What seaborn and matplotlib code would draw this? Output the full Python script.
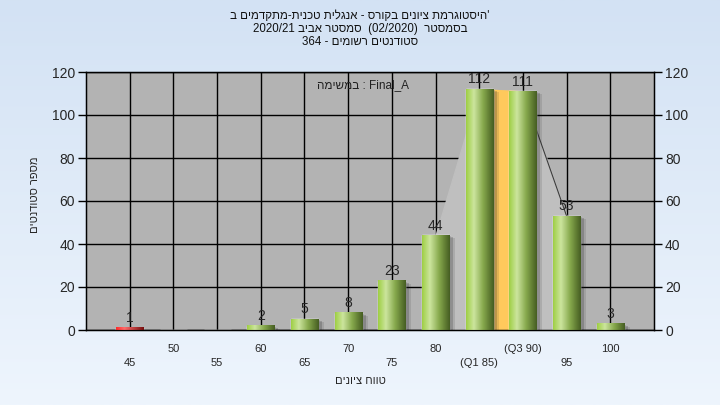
import re
import numpy as np
import pandas as pd
import matplotlib
matplotlib.use('Agg')
import matplotlib.pyplot as plt
import seaborn as sns
from matplotlib.colors import LinearSegmentedColormap
from matplotlib.patches import Rectangle
from matplotlib import transforms

# data
grades = ['45', '50', '55', '60', '65', '70', '75', '80', '85', '90', '95', '100']
counts = [1, 0, 0, 2, 5, 8, 23, 44, 112, 111, 53, 3]
tick_labels = ['45', '50', '55', '60', '65', '70', '75', '80', '(Q1 85)', '(Q3 90)', '95', '100']
q1_grade, q3_grade = '85', '90'
curve_grades = ['80', '85', '90', '95']
low_grade = '45'

title_lines = ["'היסטוגרמת ציונים בקורס - אנגלית טכנית-מתקדמים ב",
               "בסמסטר  (02/2020)  סמסטר אביב 2020/21",
               "סטודנטים רשומים - 364"]
task_word = "במשימה"
task_name = "Final_A"
x_title = "טווח ציונים"
y_title = "מספר סטודנטים"


def rtl(s):
    # matplotlib has no bidi support: lay the RTL text out in visual order
    v = s[::-1]
    v = re.sub(r'[0-9A-Za-z_/.:]+', lambda m: m.group()[::-1], v)
    return v.translate(str.maketrans('()', ')('))


sns.set_style('white')
plt.rcParams['font.family'] = ['Liberation Sans', 'DejaVu Sans']

fig = plt.figure(figsize=(7.2, 4.05), dpi=100)

# light blue gradient background
bg = fig.add_axes([0, 0, 1, 1], zorder=-10)
bg.imshow(np.linspace(0, 1, 256).reshape(-1, 1), aspect='auto', extent=[0, 1, 0, 1],
          cmap=LinearSegmentedColormap.from_list('bg', ['#d3e2f4', '#eef5fd']))
bg.axis('off')

ax = fig.add_axes([86 / 720, 75 / 405, 568 / 720, 258 / 405])
ax.set_facecolor('#b3b3b3')

df = pd.DataFrame({'grade': grades, 'count': counts})
palette = ['#c82020' if g == low_grade else '#8fbf45' for g in grades]
sns.barplot(data=df, x='grade', y='count', hue='grade', palette=palette, legend=False,
            width=0.62, saturation=1, ax=ax, zorder=3)

green = LinearSegmentedColormap.from_list('g', [(0, '#9fcf45'), (0.28, '#cce59e'),
                                                (0.62, '#86a84c'), (1, '#465e22')])
red = LinearSegmentedColormap.from_list('r', [(0, '#ff2a2a'), (0.3, '#ff6a6a'),
                                              (1, '#781010')])
grad = np.linspace(0, 1, 64).reshape(1, -1)
# soft drop shadow: a few offset layers
shadow_layers = [(2, -1, 0.25), (4, -2, 0.2), (6, -3, 0.12)]

bars = [p for p in ax.patches if isinstance(p, Rectangle)]
for p, g in zip(sorted(bars, key=lambda r: r.get_x()), grades):
    x, w, h = p.get_x(), p.get_width(), p.get_height()
    for dx, dy, a in shadow_layers:
        tr = transforms.offset_copy(ax.transData, fig=fig, x=dx, y=dy, units='dots')
        ax.add_patch(Rectangle((x, 0), w, h, transform=tr, facecolor='#202020',
                               alpha=a, edgecolor='none', zorder=2.5))
    if h <= 0:
        continue
    p.set_facecolor('none')
    ax.imshow(grad, aspect='auto', extent=[x, x + w, 0, h],
              cmap=red if g == low_grade else green, zorder=3.1)

# interquartile band and the faint distribution curve behind the bars
i1, i3 = grades.index(q1_grade), grades.index(q3_grade)
ax.fill_between([i1, i3], [counts[i1], counts[i3]], color='#ffc95c', zorder=2.4)
ci = [grades.index(g) for g in curve_grades]
cv = [counts[i] for i in ci]
ax.fill_between(ci, cv, color='#bfbfbf', zorder=1.5)
ax.plot(ci[-2:], cv[-2:], color='#3c3c3c', lw=0.8, zorder=1.6)

for i, c in enumerate(counts):
    if c > 0:
        ax.annotate(str(c), (i, c), xytext=(0, 2), textcoords='offset points',
                    ha='center', va='bottom', fontsize=10, color='#262626', zorder=5)

ax.set_xlim(-1, 12)
ax.set_ylim(0, 120)
yt = list(range(0, 121, 20))
ax.set_yticks(yt)
ax.set_xticks(range(len(grades)))
ax.set_xticklabels([('\n' + t) if i % 2 == 0 else t for i, t in enumerate(tick_labels)],
                   fontsize=8)
for t in ax.get_xticklabels():
    t.set_linespacing(1.5)
ax.tick_params(axis='x', length=5, width=1, color='black', pad=5, direction='out')
ax.tick_params(axis='y', length=6, width=1, color='black', labelsize=10, pad=2,
               direction='out', left=True)
ax.grid(True, color='black', lw=1)
ax.set_axisbelow(True)
ax.set_xlabel('')
ax.set_ylabel('')
for s in ax.spines.values():
    s.set_color('black')
    s.set_linewidth(1)

ax2 = ax.twinx()
ax2.set_ylim(0, 120)
ax2.set_yticks(yt)
ax2.tick_params(axis='y', length=6, width=1, color='black', labelsize=10, pad=2,
                direction='out', right=True)
ax2.grid(False)
for s in ax2.spines.values():
    s.set_color('black')

for k, line in enumerate(title_lines):
    fig.text(0.5, 1 - (16 + 13 * k) / 405, rtl(line), ha='center', va='center',
             fontsize=8.3, color='#111111')
fig.text(363 / 720, 1 - 85 / 405, rtl(task_word) + ' : ' + task_name, ha='center',
         va='center', fontsize=8.5, color='#222222')
fig.text(0.5, 1 - 381 / 405, rtl(x_title), ha='center', va='center', fontsize=8)
fig.text(35 / 720, 1 - 195 / 405, rtl(y_title), ha='center', va='center', fontsize=8,
         rotation=90)

fig.savefig('out.png', dpi=100)
